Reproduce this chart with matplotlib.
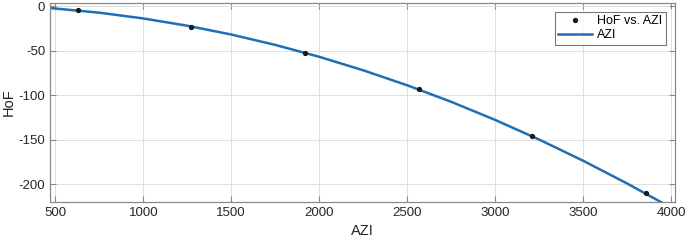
import numpy as np
import matplotlib
matplotlib.use('Agg')
import matplotlib.pyplot as plt

# measured points (HoF vs. AZI)
azi_pts = [629, 1274, 1920, 2564, 3210, 3854]
hof_pts = [-4.5, -22.6, -52.0, -93.0, -146.0, -210.6]

# fitted curve
azi_fit = [470, 750, 1000, 1250, 1500, 1750, 2000, 2250, 2500, 2750,
           3000, 3250, 3500, 3750, 3960]
hof_fit = [-1.8, -7.0, -13.5, -21.7, -31.6, -43.3, -56.7, -71.9, -88.8,
           -107.4, -127.8, -149.9, -173.8, -199.4, -222.3]

x_ticks = [500, 1000, 1500, 2000, 2500, 3000, 3500, 4000]
y_ticks = [0, -50, -100, -150, -200]

plt.rcParams['font.family'] = ['Liberation Sans', 'DejaVu Sans']
plt.rcParams['axes.unicode_minus'] = False

fig = plt.figure(figsize=(6.85, 2.42), dpi=100)
ax = fig.add_axes([0.073, 0.166, 0.912, 0.822])

ax.plot(azi_pts, hof_pts, 'o', color='#1a1a1a', markersize=2.8,
        label='HoF vs. AZI', zorder=3)
ax.plot(azi_fit, hof_fit, '-', color='#1f6fb5', linewidth=1.8,
        label='AZI', zorder=2)

ax.set_xlim(470, 4020)
ax.set_ylim(-220, 4)
ax.set_xticks(x_ticks)
ax.set_yticks(y_ticks)
ax.grid(True, color='#dedede', linewidth=0.7)
ax.set_axisbelow(True)

for s in ax.spines.values():
    s.set_color('#8a8a8a')
    s.set_linewidth(0.9)
ax.tick_params(direction='in', top=True, right=True, length=4,
               colors='#8a8a8a', labelcolor='#262626', labelsize=9.5)

ax.set_xlabel('AZI', fontsize=10.5, color='#262626', labelpad=4)
ax.set_ylabel('HoF', fontsize=10.5, color='#262626')
ax.yaxis.set_label_coords(-0.055, 0.5)

leg = ax.legend(loc='upper right', fontsize=9, frameon=True, fancybox=False,
                borderpad=0.3, handlelength=2.7, handletextpad=0.4,
                labelspacing=0.15, borderaxespad=0,
                bbox_to_anchor=(0.986, 0.956))
leg.get_frame().set_edgecolor('#555555')
leg.get_frame().set_linewidth(0.8)

fig.savefig('out.png', dpi=100)
